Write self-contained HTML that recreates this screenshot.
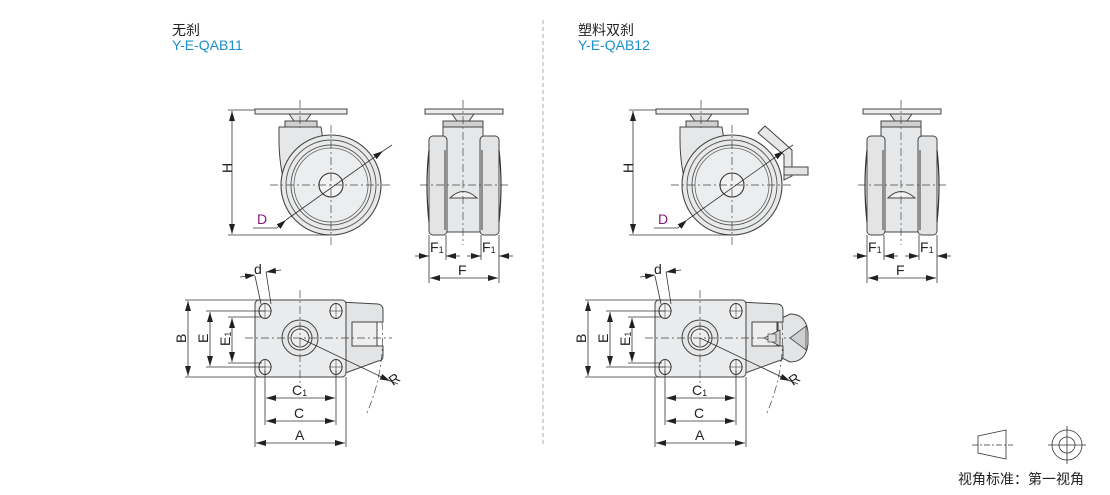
<!DOCTYPE html>
<html><head><meta charset="utf-8"><style>
html,body{margin:0;padding:0;background:#fff;}
svg{display:block;}
text{font-family:"Liberation Sans","Noto Sans CJK SC",sans-serif;}
</style></head><body>
<svg width="1110" height="495" viewBox="0 0 1110 495" xmlns="http://www.w3.org/2000/svg">
<defs>
<marker id="ar" viewBox="0 0 10 6" refX="10" refY="3" markerWidth="10" markerHeight="6" markerUnits="userSpaceOnUse" orient="auto-start-reverse"><path d="M0,0 L10,3 L0,6 Z" fill="#222"/></marker>
<g id="side">
  <rect x="255" y="109" width="92" height="5" fill="#eceded" stroke="#444" stroke-width="1"/>
  <path d="M289,114 L311,114 L306,121 L294,121 Z" fill="#e4e5e6" stroke="#444" stroke-width="1"/>
  <rect x="285" y="121" width="32" height="6" fill="#cfd0d1" stroke="#444" stroke-width="1"/>
  <path d="M279,127 L321,127 L323,140 L300,170 L292,205 Q279,175 279,140 Z" fill="#e6e7e8" stroke="#444" stroke-width="1"/>
  <circle cx="331" cy="185" r="50" fill="#e8e9ea" stroke="#444" stroke-width="1.1"/>
  <circle cx="331" cy="185" r="45" fill="none" stroke="#555" stroke-width="0.9"/>
  <circle cx="331" cy="185" r="40" fill="#ecedee" stroke="#555" stroke-width="0.9"/>
  <circle cx="331" cy="185" r="37" fill="none" stroke="#666" stroke-width="0.8"/>
  <circle cx="331" cy="185" r="12" fill="#f2f2f2" stroke="#333" stroke-width="1.1"/>
  <g stroke="#444" stroke-width="0.7" stroke-dasharray="8,3,2,3" fill="none">
    <line x1="270" y1="185" x2="392" y2="185"/><line x1="331" y1="125" x2="331" y2="246"/><line x1="300" y1="100" x2="300" y2="128"/>
  </g>
  <g stroke="#333" stroke-width="0.8" fill="none">
    <line x1="228" y1="110" x2="255" y2="110"/><line x1="228" y1="235" x2="331" y2="235"/>
    <line x1="232" y1="111" x2="232" y2="234" marker-start="url(#ar)" marker-end="url(#ar)"/>
    <line x1="253" y1="228" x2="277" y2="228"/>
    <line x1="277" y1="228" x2="286" y2="220" marker-end="url(#ar)"/>
    <line x1="286" y1="220" x2="383" y2="151" marker-end="url(#ar)"/>
    <line x1="383" y1="151" x2="392" y2="145"/>
  </g>
</g>
<g id="front">
  <rect x="425" y="109" width="78" height="5" fill="#eceded" stroke="#444" stroke-width="1"/>
  <path d="M452,114 L474,114 L469,121 L457,121 Z" fill="#e4e5e6" stroke="#444" stroke-width="1"/>
  <rect x="443" y="121" width="40" height="6" fill="#cfd0d1" stroke="#444" stroke-width="1"/>
  <path d="M443,127 L483,127 L483,150 L480,160 L480,232 L447,232 L447,160 L443,150 Z" fill="#e6e7e8" stroke="#444" stroke-width="1"/>
  <rect x="429" y="136" width="18" height="99" rx="4" fill="#e3e4e5" stroke="#444" stroke-width="1"/>
  <rect x="480" y="136" width="19" height="99" rx="4" fill="#e3e4e5" stroke="#444" stroke-width="1"/>
  <path d="M429,150 Q425,185 429,222 M499,150 Q503,185 499,222" fill="none" stroke="#333" stroke-width="1.2"/>
  <line x1="445" y1="150" x2="445" y2="230" stroke="#555" stroke-width="1.2"/>
  <line x1="482" y1="150" x2="482" y2="230" stroke="#555" stroke-width="1.2"/>
  <path d="M450,198 Q463,185 477,198 Z" fill="#f0f0f0" stroke="#444" stroke-width="1"/>
  <g stroke="#444" stroke-width="0.7" stroke-dasharray="8,3,2,3" fill="none">
    <line x1="420" y1="185" x2="508" y2="185"/><line x1="463" y1="100" x2="463" y2="245"/>
  </g>
  <g stroke="#333" stroke-width="0.8" fill="none">
    <line x1="429" y1="235" x2="429" y2="283"/><line x1="446" y1="235" x2="446" y2="260"/>
    <line x1="481" y1="235" x2="481" y2="260"/><line x1="499" y1="235" x2="499" y2="283"/>
    <line x1="415" y1="256" x2="429" y2="256" marker-end="url(#ar)"/>
    <line x1="460" y1="256" x2="446" y2="256" marker-end="url(#ar)"/>
    <line x1="467" y1="256" x2="481" y2="256" marker-end="url(#ar)"/>
    <line x1="513" y1="256" x2="499" y2="256" marker-end="url(#ar)"/>
    <line x1="430" y1="278" x2="498" y2="278" marker-start="url(#ar)" marker-end="url(#ar)"/>
  </g>
</g>
<g id="top">
  <path d="M340,302 L378,304 Q383,305 383,310 L383,322 L352,322 L352,346 L383,346 L383,356 Q383,361 378,361 L340,375 Z" fill="#e3e4e5" stroke="#444" stroke-width="1"/>
  <rect x="352" y="322" width="25" height="24" fill="#eeeeef" stroke="#444" stroke-width="1"/>
  <rect x="255" y="300" width="91" height="77" rx="4" fill="#eaebec" stroke="#444" stroke-width="1"/>
  <g fill="#f2f2f2" stroke="#333" stroke-width="1">
    <ellipse cx="265" cy="311" rx="6" ry="7.5"/><ellipse cx="336" cy="311" rx="6" ry="7.5"/>
    <ellipse cx="265" cy="367" rx="6" ry="7.5"/><ellipse cx="336" cy="367" rx="6" ry="7.5"/>
  </g>
  <g stroke="#444" stroke-width="0.6">
    <line x1="258" y1="311" x2="272" y2="311"/><line x1="265" y1="303" x2="265" y2="319"/>
    <line x1="329" y1="311" x2="343" y2="311"/><line x1="336" y1="303" x2="336" y2="319"/>
    <line x1="258" y1="367" x2="272" y2="367"/><line x1="336" y1="359" x2="336" y2="375"/>
    <line x1="329" y1="367" x2="343" y2="367"/><line x1="265" y1="359" x2="265" y2="375"/>
  </g>
  <circle cx="300" cy="338" r="18" fill="#e6e7e8" stroke="#444" stroke-width="1"/>
  <circle cx="300" cy="338" r="12" fill="#eeeeef" stroke="#444" stroke-width="1"/>
  <circle cx="300" cy="338" r="9" fill="none" stroke="#444" stroke-width="1"/>
  <g stroke="#444" stroke-width="0.7" stroke-dasharray="8,3,2,3" fill="none">
    <line x1="245" y1="338" x2="392" y2="338"/><line x1="300" y1="290" x2="300" y2="386"/>
    <path d="M382,322 Q386,370 366,415"/>
  </g>
  <g stroke="#333" stroke-width="0.8" fill="none">
    <line x1="300" y1="338" x2="390" y2="381" marker-end="url(#ar)"/>
    <line x1="390" y1="381" x2="398" y2="384"/>
    <line x1="185" y1="300" x2="262" y2="300"/><line x1="185" y1="377" x2="262" y2="377"/>
    <line x1="188" y1="301" x2="188" y2="376" marker-start="url(#ar)" marker-end="url(#ar)"/>
    <line x1="206" y1="311" x2="265" y2="311"/><line x1="206" y1="367" x2="265" y2="367"/>
    <line x1="210" y1="312" x2="210" y2="366" marker-start="url(#ar)" marker-end="url(#ar)"/>
    <line x1="228" y1="317" x2="262" y2="317"/><line x1="228" y1="363" x2="262" y2="363"/>
    <line x1="232" y1="318" x2="232" y2="362" marker-start="url(#ar)" marker-end="url(#ar)"/>
    <line x1="265" y1="370" x2="265" y2="425"/><line x1="336" y1="370" x2="336" y2="425"/>
    <line x1="255" y1="377" x2="255" y2="447"/><line x1="346" y1="377" x2="346" y2="447"/>
    <line x1="266" y1="398" x2="335" y2="398" marker-start="url(#ar)" marker-end="url(#ar)"/>
    <line x1="266" y1="421" x2="335" y2="421" marker-start="url(#ar)" marker-end="url(#ar)"/>
    <line x1="256" y1="443" x2="345" y2="443" marker-start="url(#ar)" marker-end="url(#ar)"/>
    <line x1="261" y1="304" x2="255" y2="276"/><line x1="271" y1="304" x2="266" y2="272"/>
    <line x1="240" y1="277" x2="255" y2="275" marker-end="url(#ar)"/>
    <line x1="281" y1="270" x2="266" y2="272" marker-end="url(#ar)"/>
  </g>
</g>
</defs>

<line x1="543" y1="20" x2="543" y2="445" stroke="#999" stroke-width="0.8" stroke-dasharray="4,3"/>

<text x="172" y="35" font-size="14" fill="#222">无刹</text>
<text x="172" y="50" font-size="14" fill="#1a8fd0">Y-E-QAB11</text>
<text x="578" y="35" font-size="14" fill="#222">塑料双刹</text>
<text x="578" y="50" font-size="14" fill="#1a8fd0">Y-E-QAB12</text>

<use href="#side"/>
<use href="#front"/>
<use href="#top"/>

<!-- right group -->
<path d="M758,133 L765,126 L792,150 L792,176 L784,180 L784,155 Z" fill="#e6e7e8" stroke="#444" stroke-width="1"/>
<rect x="784" y="167" width="24" height="8" fill="#e3e4e5" stroke="#444" stroke-width="1"/>
<use href="#side" transform="translate(401,0)"/>
<use href="#front" transform="translate(438,0)"/>
<path d="M778,320 L790,314 Q806,314 808,332 L808,344 Q806,362 790,362 L778,356 Z" fill="#e3e4e5" stroke="#444" stroke-width="1"/>
<use href="#top" transform="translate(400,0)"/>
<path d="M780,330 L780,346 L764,338 Z M806,326 L806,350 L790,338 Z" fill="#cfd0d1" stroke="#444" stroke-width="0.8"/>
<rect x="768" y="334" width="8" height="8" fill="#ddd" stroke="#444" stroke-width="0.7"/>

<g font-size="14" fill="#222">
<text transform="translate(232,173) rotate(-90)">H</text>
<text x="257" y="224" fill="#8a1a7a">D</text>
<text x="430" y="252">F<tspan font-size="9" dy="1">1</tspan></text>
<text x="482" y="252">F<tspan font-size="9" dy="1">1</tspan></text>
<text x="458" y="275">F</text>
<text x="254" y="274">d</text>
<text transform="translate(186,343) rotate(-90)">B</text>
<text transform="translate(208,343) rotate(-90)">E</text>
<text transform="translate(230,346) rotate(-90)">E<tspan font-size="9" dy="1">1</tspan></text>
<text x="292" y="395">C<tspan font-size="9" dy="1">1</tspan></text>
<text x="294" y="418">C</text>
<text x="295" y="440">A</text>
<text transform="translate(393,386) rotate(-35)">R</text>

<text transform="translate(633,173) rotate(-90)">H</text>
<text x="658" y="224" fill="#8a1a7a">D</text>
<text x="868" y="252">F<tspan font-size="9" dy="1">1</tspan></text>
<text x="920" y="252">F<tspan font-size="9" dy="1">1</tspan></text>
<text x="896" y="275">F</text>
<text x="654" y="274">d</text>
<text transform="translate(586,343) rotate(-90)">B</text>
<text transform="translate(608,343) rotate(-90)">E</text>
<text transform="translate(630,346) rotate(-90)">E<tspan font-size="9" dy="1">1</tspan></text>
<text x="692" y="395">C<tspan font-size="9" dy="1">1</tspan></text>
<text x="694" y="418">C</text>
<text x="695" y="440">A</text>
<text transform="translate(793,386) rotate(-35)">R</text>
</g>

<!-- legend -->
<g stroke="#333" stroke-width="0.8" fill="none">
  <path d="M978,436 L1006,430 L1006,459 L978,453 Z"/>
  <line x1="972" y1="445" x2="1013" y2="445" stroke-dasharray="6,2,2,2"/>
  <circle cx="1067" cy="445" r="15"/><circle cx="1067" cy="445" r="8"/>
  <line x1="1048" y1="445" x2="1086" y2="445"/><line x1="1067" y1="426" x2="1067" y2="464"/>
</g>
<text x="958" y="484" font-size="14" fill="#222">视角标准：第一视角</text>
</svg>
</body></html>
